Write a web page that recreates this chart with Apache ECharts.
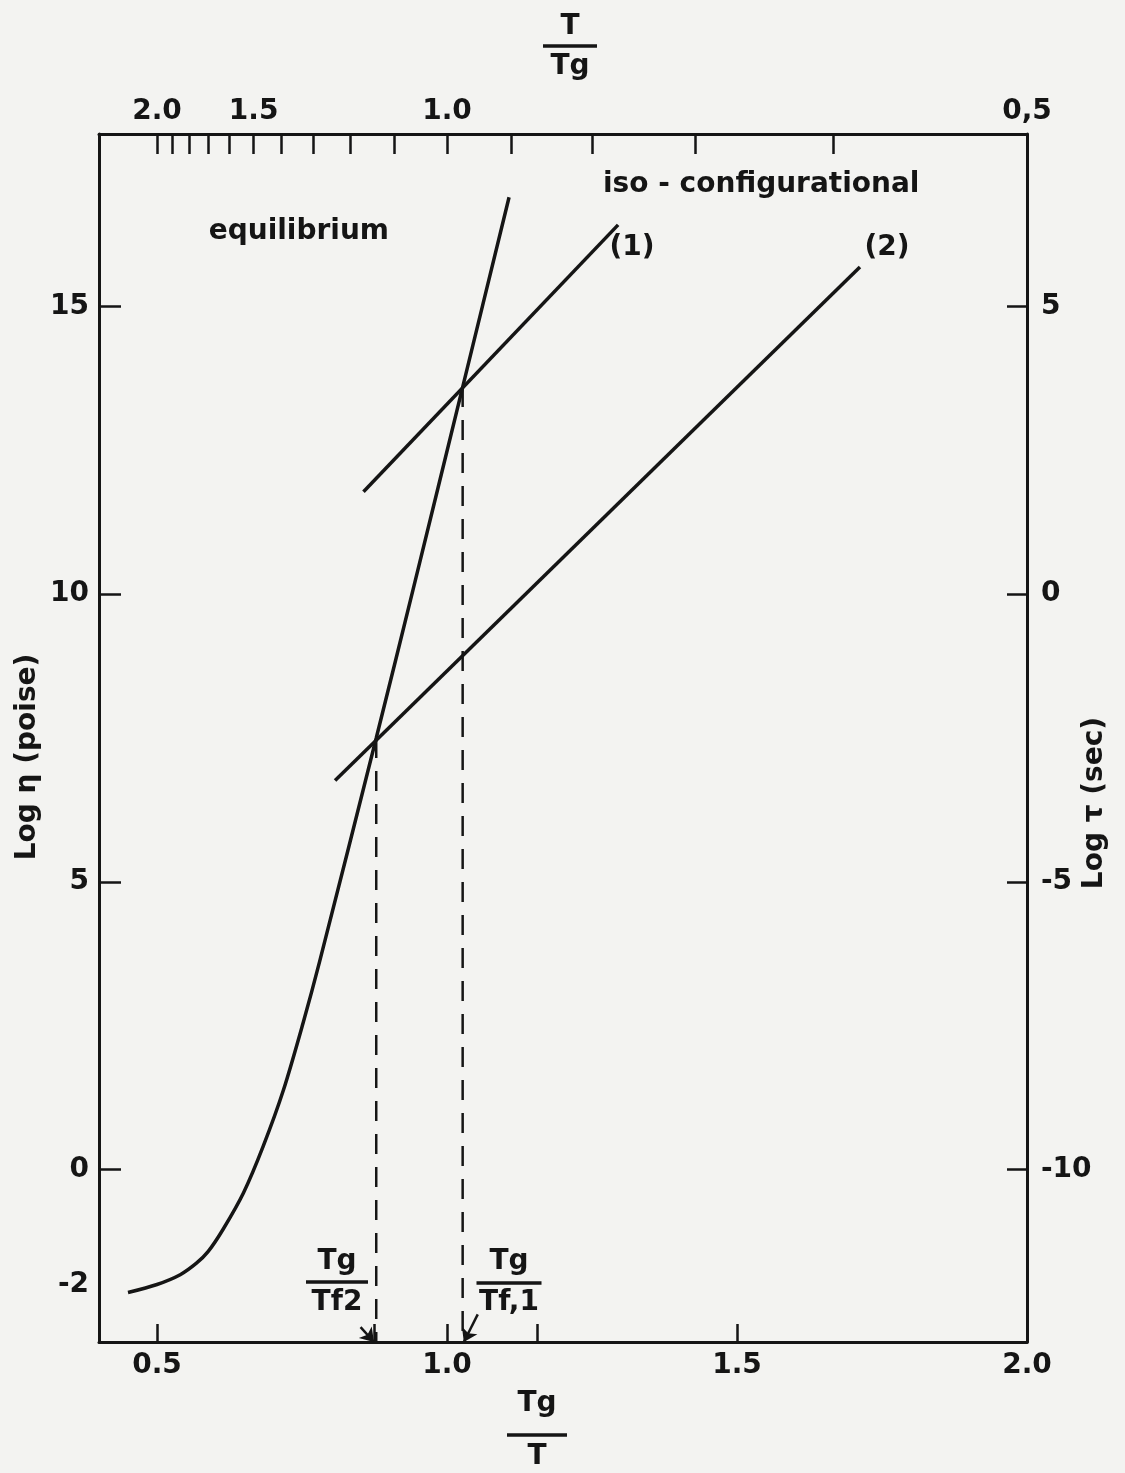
<!DOCTYPE html>
<html>
<head>
<meta charset="utf-8">
<script src="https://cdn.jsdelivr.net/npm/echarts@6/dist/echarts.min.js"></script>
<style>
  html, body { margin: 0; padding: 0; background: #f3f3f1; }
  #chart { width: 1125px; height: 1473px; }
</style>
</head>
<body>
<div id="chart"></div>
<script>
// equilibrium curve, Tg/T vs log eta
var eqX = [0.45, 0.50, 0.54, 0.568, 0.588, 0.614, 0.649, 0.683, 0.718, 0.752, 0.78, 0.878, 0.942, 1.027, 1.107]
var eqY = [-2.14, -2.0, -1.83, -1.63, -1.43, -1.04, -0.41, 0.40, 1.38, 2.55, 3.60, 7.50, 10.10, 13.60, 16.90]

// iso-configurational lines (1) and (2)
var iso1X = [0.856, 1.295]
var iso1Y = [11.78, 16.42]
var iso2X = [0.807, 1.712]
var iso2Y = [6.76, 15.69]

// Tg/Tf values where the dashed drops hit
var tfX = [0.878, 1.027]
var tfY = [7.50, 13.60]

// axis ticks / labels
var bottomTicks = [0.5, 0.875, 1.0, 1.155, 1.5]
var bottomLabels = [0.5, 1.0, 1.5, 2.0]
var topTicks = [2.0, 1.9, 1.8, 1.7, 1.6, 1.5, 1.4, 1.3, 1.2, 1.1, 1.0, 0.9, 0.8, 0.7, 0.6]
var topLabelVals = [2.0, 1.5, 1.0, 0.5]
var topLabelText = ['2.0', '1.5', '1.0', '0,5']
var leftTicks = [0, 5, 10, 15]
var leftLabels = [-2, 0, 5, 10, 15]
var rightTicks = [-10, -5, 0, 5]

var ink = '#151515'
var font = 'DejaVu Sans'
var fsize = 28
var fontCss = 'bold ' + fsize + 'px "' + font + '"'

function zip(xs, ys) {
  return xs.map(function (x, i) { return [x, ys[i]] })
}

var chart = echarts.init(document.getElementById('chart'))

function tickLabel(extra) {
  return Object.assign({ color: ink, fontSize: fsize, fontWeight: 'bold', fontFamily: font, margin: 10 }, extra)
}

function axisBase(extra) {
  var base = {
    type: 'value',
    axisLine: { show: true, onZero: false, lineStyle: { color: ink, width: 3 } },
    splitLine: { show: false }
  }
  return Object.assign(base, extra)
}

var series = []

series.push({
  name: 'equilibrium',
  type: 'line',
  data: zip(eqX, eqY),
  smooth: 0.3,
  showSymbol: false,
  lineStyle: { color: ink, width: 3.5 }
})

series.push({
  name: 'iso1',
  type: 'line',
  data: zip(iso1X, iso1Y),
  showSymbol: false,
  lineStyle: { color: ink, width: 3.5 }
})

series.push({
  name: 'iso2',
  type: 'line',
  data: zip(iso2X, iso2Y),
  showSymbol: false,
  lineStyle: { color: ink, width: 3.5 }
})

tfX.forEach(function (x, i) {
  series.push({
    name: 'drop' + i,
    type: 'line',
    data: [[x, tfY[i]], [x, -3]],
    showSymbol: false,
    lineStyle: { color: ink, width: 2.5, type: [20, 13] }
  })
})

// little arrows pointing at Tg/Tf on the axis
series.push({
  type: 'lines',
  coordinateSystem: 'cartesian2d',
  symbol: ['none', 'arrow'],
  symbolSize: 13,
  lineStyle: { color: ink, width: 2.5, opacity: 1 },
  data: [
    { coords: [[tfX[0] - 0.027, -2.74], [tfX[0] - 0.004, -3.0]] },
    { coords: [[tfX[1] + 0.026, -2.52], [tfX[1] + 0.002, -3.0]] }
  ]
})

function frac(cx, top, bottom, yTop, yBar, yBot, barW) {
  return {
    type: 'group',
    children: [
      { type: 'text', x: cx, y: yTop, style: { text: top, fill: ink, font: fontCss, align: 'center', verticalAlign: 'middle' } },
      { type: 'line', shape: { x1: cx - barW / 2, y1: yBar, x2: cx + barW / 2, y2: yBar }, style: { stroke: ink, lineWidth: 3.5 } },
      { type: 'text', x: cx, y: yBot, style: { text: bottom, fill: ink, font: fontCss, align: 'center', verticalAlign: 'middle' } }
    ]
  }
}

function label(text, x, y, align, rot) {
  return {
    type: 'text', x: x, y: y, rotation: rot || 0,
    style: { text: text, fill: ink, font: fontCss, align: align || 'center', verticalAlign: 'middle' }
  }
}

var option = {
  backgroundColor: '#f3f3f1',
  animation: false,
  grid: { left: 99, right: 98, top: 134, bottom: 131, containLabel: false },
  xAxis: [
    axisBase({
      position: 'bottom', min: 0.4, max: 2.0,
      axisTick: { show: true, inside: true, length: 18, customValues: bottomTicks, lineStyle: { color: ink, width: 2.5 } },
      axisLabel: tickLabel({ customValues: bottomLabels, formatter: function (v) { return v.toFixed(1) } })
    }),
    axisBase({
      position: 'top', min: 0.4, max: 2.0,
      axisTick: { show: true, inside: true, length: 20, customValues: topTicks.map(function (t) { return 1 / t }), lineStyle: { color: ink, width: 2.5 } },
      axisLabel: tickLabel({
        margin: 8,
        customValues: topLabelVals.map(function (t) { return 1 / t }),
        formatter: function (v) {
          for (var i = 0; i < topLabelVals.length; i++) {
            if (Math.abs(1 / topLabelVals[i] - v) < 1e-6) return topLabelText[i]
          }
          return ''
        }
      })
    })
  ],
  yAxis: [
    axisBase({
      position: 'left', min: -3, max: 18,
      axisTick: { show: true, inside: true, length: 22, customValues: leftTicks, lineStyle: { color: ink, width: 2.5 } },
      axisLabel: tickLabel({ customValues: leftLabels })
    }),
    axisBase({
      position: 'right', min: -13, max: 8,
      axisTick: { show: true, inside: true, length: 20, customValues: rightTicks, lineStyle: { color: ink, width: 2.5 } },
      axisLabel: tickLabel({ margin: 14, customValues: rightTicks })
    })
  ],
  graphic: [
    frac(570, 'T', 'Tg', 27, 46, 67, 54),
    frac(537, 'Tg', 'T', 1404, 1435, 1457, 60),
    frac(337, 'Tg', 'Tf2', 1262, 1282, 1303, 62),
    frac(509, 'Tg', 'Tf,1', 1262, 1283, 1303, 65),
    label('Log η (poise)', 28, 757, 'center', Math.PI / 2),
    label('Log τ (sec)', 1095, 803, 'center', Math.PI / 2),
    label('equilibrium', 389, 232, 'right'),
    label('iso - configurational', 603, 185, 'left'),
    label('(1)', 632, 248),
    label('(2)', 887, 248)
  ],
  series: series
}

chart.setOption(option)
</script>
</body>
</html>
